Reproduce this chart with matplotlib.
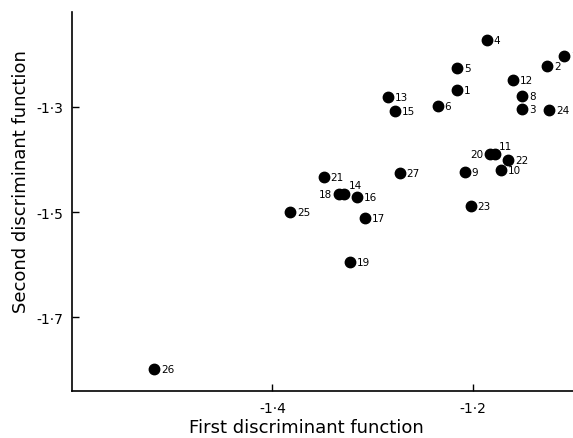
import numpy as np
import matplotlib
matplotlib.use('Agg')
import matplotlib.pyplot as plt

plt.rcParams['font.family'] = ['DejaVu Sans']

# group numbers and their two discriminant scores
ids = ['1', '2', '3', '4', '5', '6', '7', '8', '9', '10', '11', '12', '13', '14',
       '15', '16', '17', '18', '19', '20', '21', '22', '23', '24', '25', '26', '27']
first = [-1.216, -1.126, -1.151, -1.186, -1.216, -1.235, -1.109, -1.151, -1.208,
         -1.172, -1.178, -1.160, -1.285, -1.329, -1.278, -1.316, -1.308, -1.334,
         -1.323, -1.183, -1.349, -1.165, -1.202, -1.124, -1.382, -1.518, -1.273]
second = [-1.269, -1.222, -1.305, -1.173, -1.226, -1.298, -1.203, -1.279, -1.424,
          -1.420, -1.390, -1.250, -1.281, -1.465, -1.309, -1.471, -1.511, -1.465,
          -1.594, -1.390, -1.433, -1.401, -1.488, -1.307, -1.499, -1.798, -1.426]

xticks = [-1.4, -1.2]
xticklabels = ['-1·4', '-1·2']
yticks = [-1.3, -1.5, -1.7]
yticklabels = ['-1·3', '-1·5', '-1·7']

# label placement tweaks (offset in points, horizontal alignment)
special = {'11': (3, 6, 'left'), '14': (4, 6, 'left'),
           '18': (-5, 0, 'right'), '20': (-5, 0, 'right')}

fig = plt.figure(figsize=(5.73, 4.39), dpi=100)
ax = fig.add_axes([72/573, 1 - 392/439, 501/573, 379/439])

ax.plot(first, second, 'o', color='black', markersize=7.5, clip_on=False)

for name, x, y in zip(ids, first, second):
    dx, dy, ha = special.get(name, (5, 0, 'left'))
    ax.annotate(name, (x, y), xytext=(dx, dy), textcoords='offset points',
                ha=ha, va='center', fontsize=7.5, annotation_clip=False)

ax.set_xlim(-1.6, -1.1)
ax.set_ylim(-1.84, -1.12)
ax.set_xticks(xticks)
ax.set_xticklabels(xticklabels)
ax.set_yticks(yticks)
ax.set_yticklabels(yticklabels)
ax.tick_params(direction='in', length=5, width=1, labelsize=10)
ax.tick_params(axis='x', pad=7)
ax.tick_params(axis='y', pad=6)

ax.spines['top'].set_visible(False)
ax.spines['right'].set_visible(False)
ax.spines['left'].set_linewidth(1.2)
ax.spines['bottom'].set_linewidth(1.2)

ax.set_xlabel('First discriminant function', fontsize=13)
ax.set_ylabel('Second discriminant function', fontsize=13)
ax.xaxis.set_label_coords(0.467, -0.072)
ax.yaxis.set_label_coords(-0.084, 0.555)

fig.savefig('out.png', dpi=100)
